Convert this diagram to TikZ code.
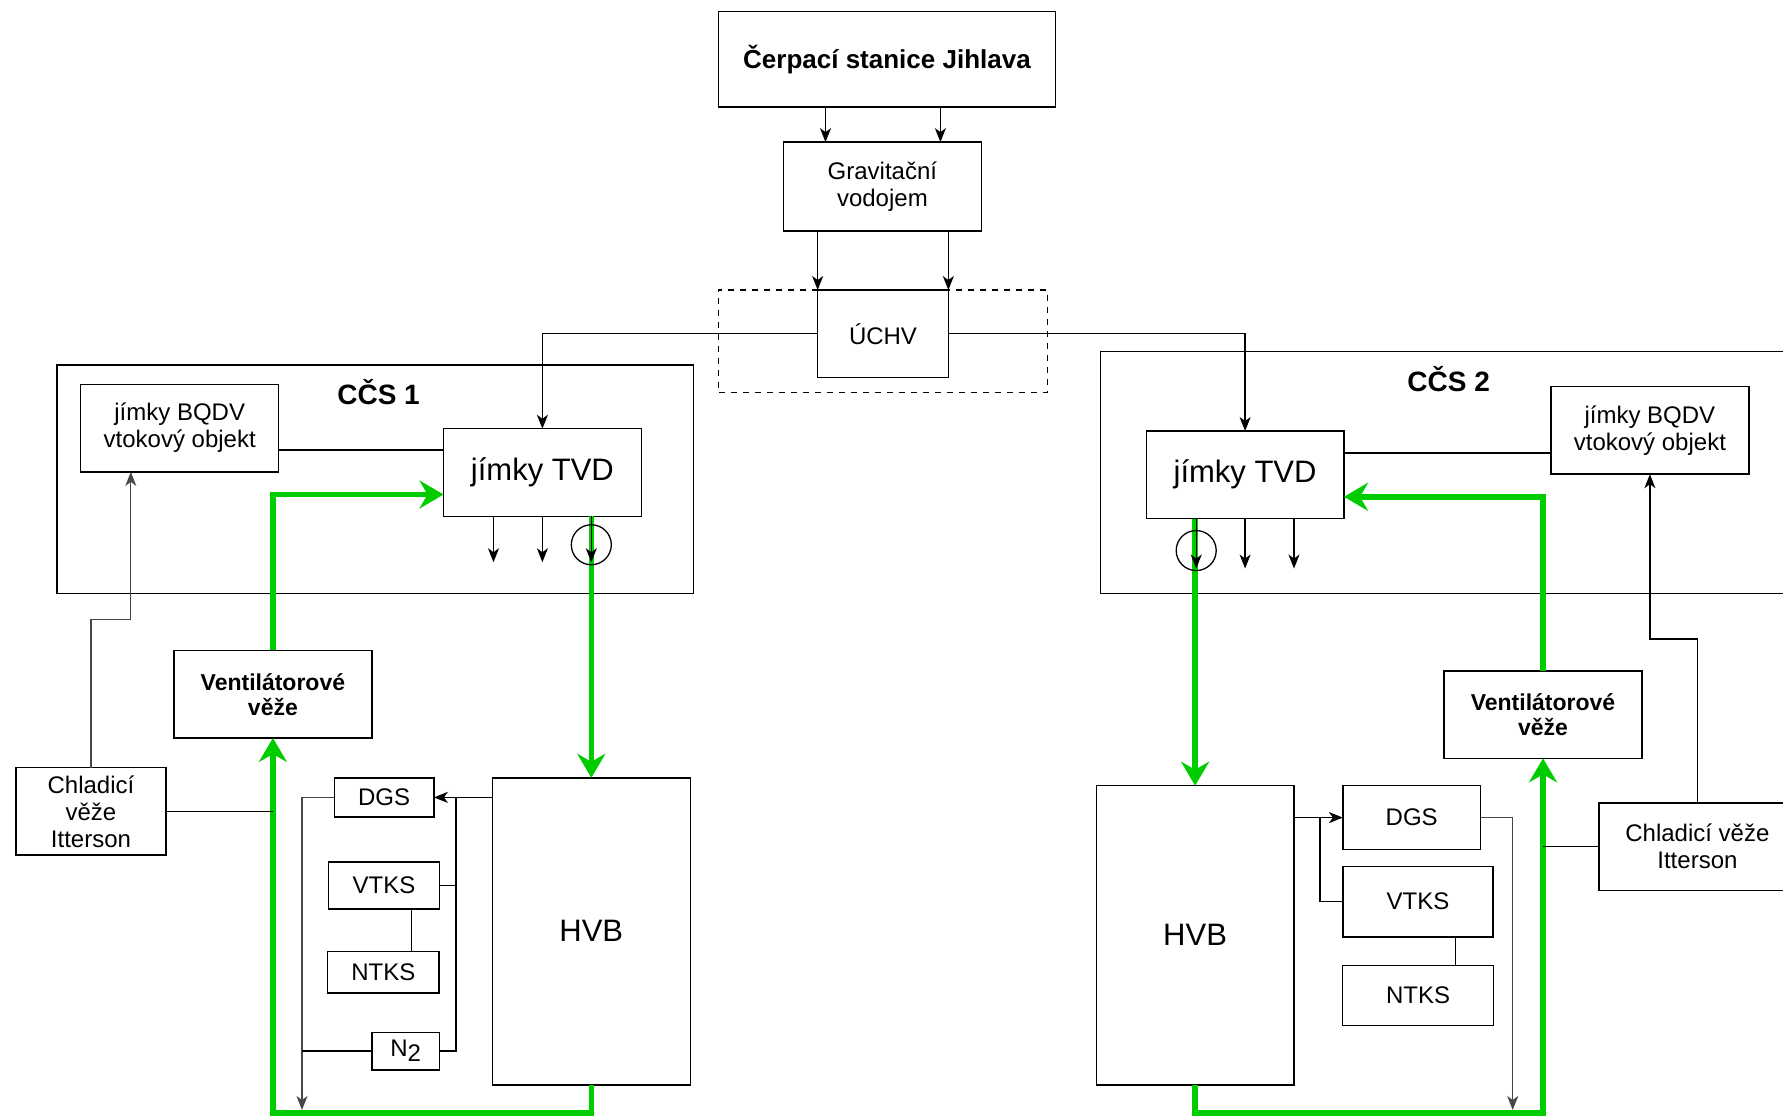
\documentclass[tikz,border=0pt]{standalone}
\usepackage{fontspec}
\setmainfont{Liberation Sans}
\usetikzlibrary{arrows.meta}
\definecolor{flowgreen}{RGB}{0,204,0}

\begin{document}
\begin{tikzpicture}[x=0.5pt, y=-0.5pt,
    every node/.style={inner sep=0pt, outer sep=0pt, align=center, font=\fontsize{12}{13.5}\selectfont},
    box/.style={draw, line width=0.7pt},
    big/.style={font=\fontsize{15.5}{18}\selectfont},
    heading/.style={font=\bfseries\fontsize{14}{16}\selectfont},
    tower/.style={font=\bfseries\fontsize{11.5}{12.5}\selectfont},
    link/.style={line width=0.65pt},
    arr/.style={link, -{Stealth[length=7pt, width=5.5pt, inset=2pt]}},
    grayline/.style={draw=black!72},
    flow/.style={draw=flowgreen, line width=2.75pt, -{Stealth[length=12pt, width=14pt, inset=4pt]}},
    pump/.style={draw, circle, line width=0.65pt, minimum size=20pt}]

    \useasboundingbox (0,0) rectangle (1783,1117);
    \clip (0,0) rectangle (1783,1117);

    \node[box, minimum width=318.35pt, minimum height=114.3pt] (ccs1) at (375.3,479.3) {};
    \node[box, minimum width=349.65pt, minimum height=121.1pt] (ccs2) at (1450.35,472.5) {};
    \node[heading] (lab1) at (378.6,392.3) {CČS 1};
    \node[heading] (lab2) at (1448.7,378.7) {CČS 2};
    \node[draw, dash pattern=on 3pt off 3pt, line width=0.6pt, minimum width=164.35pt, minimum height=51.15pt] (zone) at (883,341.2) {};

    \node[box, minimum width=168.3pt, minimum height=47.75pt, font=\bfseries\fontsize{13}{15}\selectfont] (cerpaci) at (887,59.2) {Čerpací stanice Jihlava};
    \node[box, minimum width=98.9pt, minimum height=44.35pt] (grav) at (882.4,186.5) {Gravitační\\vodojem};
    \node[box, minimum width=65.35pt, minimum height=43.75pt] (uchv) at (883,333.8) {ÚCHV};

    \node[box, minimum width=98.95pt, minimum height=43.8pt] (bqdv1) at (179.7,428.1) {jímky BQDV\\vtokový objekt};
    \node[box, big, minimum width=98.9pt, minimum height=43.75pt] (tvd1) at (542.4,472.5) {jímky TVD};
    \node[box, tower, minimum width=98.9pt, minimum height=43.8pt] (vent1) at (272.9,694.2) {Ventilátorové\\věže};
    \node[box, minimum width=75.05pt, minimum height=43.8pt] (chlad1) at (91,811.3) {Chladicí\\věže\\Itterson};
    \node[box, big, minimum width=98.9pt, minimum height=153.5pt] (hvb1) at (591.3,931.3) {HVB};
    \node[box, minimum width=49.8pt, minimum height=19.6pt] (dgs1) at (384.1,797.4) {DGS};
    \node[box, minimum width=55.25pt, minimum height=23.5pt] (vtks1) at (384,885.4) {VTKS};
    \node[box, minimum width=55.75pt, minimum height=20.65pt] (ntks1) at (383.4,972.4) {NTKS};
    \node[box, minimum width=33.65pt, minimum height=18.8pt] (n2) at (405.6,1051) {N\raisebox{-2.5pt}{2}};

    \node[box, big, minimum width=98.9pt, minimum height=43.75pt] (tvd2) at (1245.1,474.8) {jímky TVD};
    \node[box, minimum width=98.9pt, minimum height=43.8pt] (bqdv2) at (1649.9,430.4) {jímky BQDV\\vtokový objekt};
    \node[box, tower, minimum width=98.95pt, minimum height=43.75pt] (vent2) at (1543,714.6) {Ventilátorové\\věže};
    \node[box, minimum width=98.6pt, minimum height=43.75pt] (chlad2) at (1697.4,846.6) {Chladicí věže\\Itterson};
    \node[box, big, minimum width=98.9pt, minimum height=149.55pt] (hvb2) at (1195.1,935.25) {HVB};
    \node[box, minimum width=68.8pt, minimum height=31.85pt] (dgs2) at (1411.7,817.6) {DGS};
    \node[box, minimum width=75pt, minimum height=35.25pt] (vtks2) at (1418,901.7) {VTKS};
    \node[box, minimum width=75.25pt, minimum height=30.15pt] (ntks2) at (1418,995.5) {NTKS};

    \coordinate (drain1) at (302,1110);
    \coordinate (drain2) at (1512.7,1110);

    \draw[arr] (cerpaci.south -| 825.5,0) -- (grav.north -| 825.5,0);
    \draw[arr] (cerpaci.south -| 940.4,0) -- (grav.north -| 940.4,0);
    \draw[arr] (grav.south -| uchv.west) -- (uchv.north west);
    \draw[arr] (grav.south -| uchv.east) -- (uchv.north east);
    \draw[arr] (uchv.west) -| (tvd1.north);
    \draw[arr] (uchv.east) -| (tvd2.north);
    \draw[link] (bqdv1.east |- 0,450) -- (tvd1.west |- 0,450);
    \draw[link] (tvd2.east |- 0,453) -- (bqdv2.west |- 0,453);

    \draw[flow] ([xshift=24.45pt]tvd1.south) -- (hvb1.north);
    \draw[flow] (vent1.north) |- ([yshift=-11pt]tvd1.west);
    \draw[flow] (hvb1.south) |- (vent1.south |- 0,1113) -- (vent1.south);
    \draw[flow] (tvd2.south -| hvb2.north) -- (hvb2.north);
    \draw[flow] (vent2.north) |- ([yshift=-11pt]tvd2.east);
    \draw[flow] (hvb2.south) |- (vent2.south |- 0,1113) -- (vent2.south);

    \foreach \dx in {-24.45,0,24.45} {
        \draw[arr] ([xshift=\dx pt]tvd1.south) -- ++(0,46);
        \draw[arr] ([xshift=\dx pt]tvd2.south) -- ++(0,50);
    }
    \node[pump] (pump1) at ([xshift=24.45pt, yshift=-14.25pt]tvd1.south) {};
    \node[pump] (pump2) at ([xshift=-24.45pt, yshift=-16pt]tvd2.south) {};

    \draw[link] (chlad1.east) -- (chlad1.east -| vent1.south);
    \draw[link] (chlad2.west) -- (chlad2.west -| vent2.south);
    \draw[arr, grayline] (chlad1.north) |- (130.8,619.7) -- (bqdv1.south -| 130.8,0);
    \draw[arr] (chlad2.north) |- (bqdv2.south |- 0,639) -- (bqdv2.south);

    \draw[arr] (hvb1.west |- dgs1.east) -- (dgs1.east);
    \draw[link] (n2.east) -| (dgs1.east -| 456,0);
    \draw[link] (vtks1.east) -- (vtks1.east -| 456,0);
    \draw[link] (vtks1.south -| 411.8,0) -- (ntks1.north -| 411.8,0);
    \draw[arr, grayline] (dgs1.west) -| (drain1);
    \draw[link] (n2.west) -- (n2.west -| drain1);

    \draw[arr] (hvb2.east |- dgs2.west) -- (dgs2.west);
    \draw[link] (vtks2.west) -| (dgs2.west -| 1320,0);
    \draw[link] (vtks2.south -| 1455.8,0) -- (ntks2.north -| 1455.8,0);
    \draw[arr, grayline] (dgs2.east) -| (drain2);
\end{tikzpicture}
\end{document}
